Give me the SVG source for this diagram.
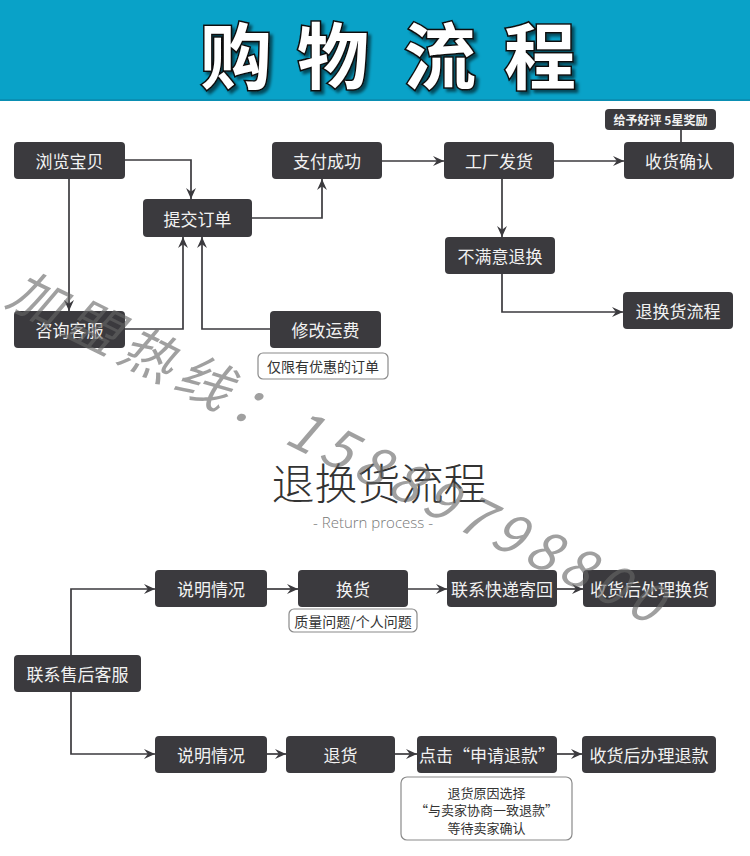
<svg xmlns="http://www.w3.org/2000/svg" width="750" height="856" viewBox="0 0 750 856">
<style>
.box{fill:#3b3a3e;}
.bt{fill:#f2f2f2;font-family:"Noto Sans CJK SC","Noto Sans",sans-serif;font-size:17px;text-anchor:middle;dominant-baseline:central;}
.note{fill:#ffffff;stroke:#8a8a8a;stroke-width:1.2;}
.nt{fill:#333;font-family:"Noto Sans CJK SC","Noto Sans",sans-serif;font-size:13px;text-anchor:middle;dominant-baseline:central;}
.con{fill:none;stroke:#3b3a3e;stroke-width:1.7;}
.arr{marker-end:url(#ah);}
.title{fill:#ffffff;stroke:#111;stroke-width:3;paint-order:stroke;font-family:"Noto Sans CJK SC",sans-serif;font-weight:700;font-size:72px;text-anchor:middle;}
</style>
<defs>
<marker id="ah" viewBox="0 0 10 10" markerWidth="11" markerHeight="11" refX="10" refY="5" orient="auto" markerUnits="userSpaceOnUse">
<path d="M0,0.5 L10,5 L0,9.5 L3.5,5 z" fill="#3b3a3e"/>
</marker>
<filter id="sh" x="0" y="0" width="750" height="100" filterUnits="userSpaceOnUse">
<feDropShadow dx="3" dy="3" stdDeviation="1.5" flood-color="#000" flood-opacity="0.55"/>
</filter>
</defs>
<rect x="0" y="0" width="750" height="856" fill="#ffffff"/>
<g id="header">
<rect x="0" y="0" width="750" height="100" fill="#09a2c8"/>
<rect x="0" y="99" width="750" height="2" fill="#0a8fb3"/>
<g filter="url(#sh)">
<text class="title" x="236" y="83">购</text>
<text class="title" x="333" y="83">物</text>
<text class="title" x="440" y="83">流</text>
<text class="title" x="540" y="83">程</text>
</g>
</g>
<g id="connectors">
<path class="con arr" d="M125,160 H191 V199"/>
<path class="con arr" d="M69,179 V311"/>
<path class="con arr" d="M125,329 H183 V237"/>
<path class="con arr" d="M270,329 H202 V237"/>
<path class="con arr" d="M252,218 H322 V179"/>
<path class="con arr" d="M382,161 H444"/>
<path class="con arr" d="M554,161 H624"/>
<path class="con arr" d="M502,179 V237"/>
<path class="con arr" d="M502,274 V312 H623"/>
<path class="con" d="M681,130 V142"/>
<path class="con arr" d="M71,660 V589 H155"/>
<path class="con arr" d="M71,690 V754 H155"/>
<path class="con arr" d="M267,589 H298"/>
<path class="con arr" d="M408,589 H447"/>
<path class="con arr" d="M557,589 H583"/>
<path class="con arr" d="M267,754 H286"/>
<path class="con arr" d="M395,754 H417"/>
<path class="con arr" d="M557,754 H582"/>
</g>
<g id="n_browse"><rect class="box" x="14" y="142" width="111" height="37" rx="4"/><text class="bt" x="69.5" y="160.5">浏览宝贝</text></g>
<g id="n_pay"><rect class="box" x="272" y="142" width="110" height="37" rx="4"/><text class="bt" x="327" y="160.5">支付成功</text></g>
<g id="n_submit"><rect class="box" x="143" y="199" width="109" height="38" rx="4"/><text class="bt" x="197.5" y="218">提交订单</text></g>
<g id="n_consult"><rect class="box" x="14" y="311" width="111" height="37" rx="4"/><text class="bt" x="69.5" y="329.5">咨询客服</text></g>
<g id="n_fee"><rect class="box" x="270" y="311" width="111" height="37" rx="4"/><text class="bt" x="325.5" y="329.5">修改运费</text></g>
<g id="n_fee_note"><rect class="note" x="258" y="353" width="130" height="26" rx="5"/><text class="nt" x="323" y="366" style="font-size:14px">仅限有优惠的订单</text></g>
<g id="n_ship"><rect class="box" x="444" y="142" width="110" height="37" rx="4"/><text class="bt" x="499" y="160.5">工厂发货</text></g>
<g id="n_receive"><rect class="box" x="624" y="142" width="110" height="37" rx="4"/><text class="bt" x="679" y="160.5">收货确认</text></g>
<g id="n_praise"><rect class="box" x="605" y="109" width="111" height="21" rx="4"/><text class="bt" x="660.5" y="119.5" style="font-size:12px;font-weight:bold">给予好评 5星奖励</text></g>
<g id="n_unhappy"><rect class="box" x="445" y="237" width="110" height="37" rx="4"/><text class="bt" x="500" y="255.5">不满意退换</text></g>
<g id="n_returnflow"><rect class="box" x="623" y="292" width="110" height="37" rx="4"/><text class="bt" x="678" y="310.5">退换货流程</text></g>
<g id="section_title">
<text x="379" y="500" fill="#333" font-family="'Noto Sans CJK SC',sans-serif" font-weight="300" font-size="43" text-anchor="middle">退换货流程</text>
<text x="373" y="528" fill="#777" font-family="'Open Sans','Noto Sans',sans-serif" font-weight="300" font-size="15" text-anchor="middle">- Return process -</text>
</g>
<g id="n_aftersale"><rect class="box" x="14" y="655" width="127" height="37" rx="4"/><text class="bt" x="77.5" y="673.5">联系售后客服</text></g>
<g id="n_explain1"><rect class="box" x="155" y="570" width="112" height="37" rx="4"/><text class="bt" x="211" y="588.5">说明情况</text></g>
<g id="n_exchange"><rect class="box" x="298" y="570" width="110" height="37" rx="4"/><text class="bt" x="353" y="588.5">换货</text></g>
<g id="n_exchange_note"><rect class="note" x="289" y="609" width="128" height="23" rx="5"/><text class="nt" x="353" y="620.5" style="font-size:14px">质量问题/个人问题</text></g>
<g id="n_express"><rect class="box" x="447" y="570" width="110" height="37" rx="4"/><text class="bt" x="502" y="588.5">联系快递寄回</text></g>
<g id="n_handle_ex"><rect class="box" x="583" y="570" width="133" height="37" rx="4"/><text class="bt" x="649.5" y="588.5">收货后处理换货</text></g>
<g id="n_explain2"><rect class="box" x="155" y="736" width="112" height="37" rx="4"/><text class="bt" x="211" y="754.5">说明情况</text></g>
<g id="n_return"><rect class="box" x="286" y="736" width="109" height="37" rx="4"/><text class="bt" x="340.5" y="754.5">退货</text></g>
<g id="n_apply"><rect class="box" x="417" y="736" width="140" height="37" rx="4"/><text class="bt" x="487" y="754.5">点击“申请退款”</text></g>
<g id="n_refund"><rect class="box" x="582" y="736" width="134" height="37" rx="4"/><text class="bt" x="649" y="754.5">收货后办理退款</text></g>
<g id="n_apply_note"><rect class="note" x="401" y="777" width="171" height="63" rx="6"/>
<text class="nt" x="486.5" y="792">退货原因选择</text>
<text class="nt" x="486.5" y="809.5">“与卖家协商一致退款”</text>
<text class="nt" x="486.5" y="827">等待卖家确认</text></g>
<g id="watermark">
<text transform="translate(4,304) rotate(26.4)" fill="#666" fill-opacity="0.62" font-family="'Noto Sans CJK SC','Liberation Sans',sans-serif" font-style="italic" font-size="54" textLength="722" lengthAdjust="spacing">加盟热线：15889798800</text>
</g>
</svg>
